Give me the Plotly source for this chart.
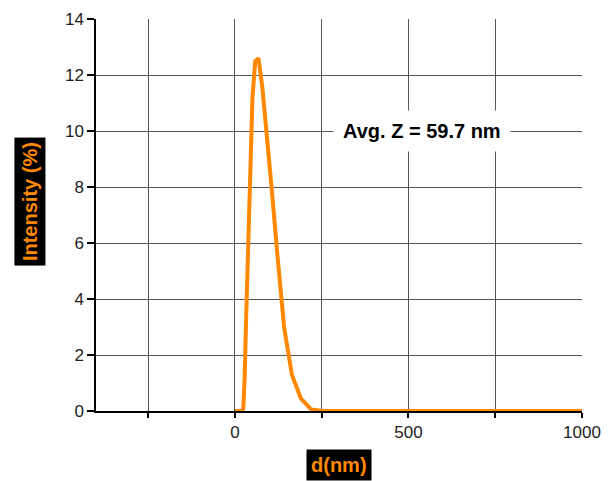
import plotly.graph_objects as go

# Size distribution (DLS)
size_nm = [0.4, 5.0, 10.0, 15.69, 18.17, 21.04, 24.36, 28.21, 32.67, 37.84, 43.82, 50.75,
           58.77, 68.06, 78.82, 91.28, 105.7, 122.4, 141.8, 164.2, 190.1, 220.2, 255.0,
           295.3, 342.0, 396.1, 458.7, 531.2, 615.1, 712.4, 825.0, 955.4, 1000.0]
intensity = [0.0, 0.0, 0.0, 0.0, 0.0, 0.0, 0.1, 1.2, 3.4, 6.0, 8.9, 11.2,
             12.5, 12.6, 11.6, 10.0, 8.0, 5.6, 3.0, 1.3, 0.45, 0.05, 0.0,
             0.0, 0.0, 0.0, 0.0, 0.0, 0.0, 0.0, 0.0, 0.0, 0.0]

x_tickvals = [-250, 0, 250, 500, 750, 1000]
x_ticktext = ["", "0", "", "500", "", "1000"]
y_tickvals = [0, 2, 4, 6, 8, 10, 12, 14]

avg_z_label = "Avg. Z = 59.7 nm"
x_title = "d(nm)"
y_title = "Intensity (%)"

FONT = "Arial, Liberation Sans, sans-serif"
ORANGE = "#FF8800"

fig = go.Figure()
fig.add_trace(go.Scatter(x=size_nm, y=intensity, mode="lines",
                         line=dict(color=ORANGE, width=4), showlegend=False))

fig.update_layout(
    width=605, height=473,
    margin=dict(l=88, r=31, t=11, b=70),
    paper_bgcolor="white", plot_bgcolor="white",
    font=dict(family=FONT, size=17, color="#222222"),
    xaxis=dict(range=[-400, 1000], tickvals=x_tickvals, ticktext=x_ticktext,
               showgrid=True, gridcolor="#555555", gridwidth=1.2,
               showline=True, linecolor="black", linewidth=1.5,
               ticks="outside", ticklen=5, tickcolor="black", tickwidth=1.5,
               zeroline=False, automargin=False,
               tickfont=dict(size=17, color="#222222")),
    yaxis=dict(range=[0, 14], tickvals=y_tickvals,
               showgrid=True, gridcolor="#555555", gridwidth=1.2,
               showline=True, linecolor="black", linewidth=1.5,
               ticks="outside", ticklen=7, tickcolor="black", tickwidth=1.5,
               zeroline=False, automargin=False,
               tickfont=dict(size=17, color="#222222")),
    annotations=[
        dict(x=539, y=10, xref="x", yref="y", text="<b>" + avg_z_label + "</b>",
             showarrow=False, bgcolor="white", borderpad=9,
             font=dict(family=FONT, size=20, color="black"),
             xanchor="center", yanchor="middle"),
        dict(x=0, y=0.533, xref="paper", yref="paper", xshift=-66,
             text="<b>" + y_title + "</b>", textangle=-90, showarrow=False,
             bgcolor="black", borderpad=4,
             font=dict(family=FONT, size=20, color=ORANGE),
             xanchor="center", yanchor="middle"),
        dict(x=0.5, y=0, xref="paper", yref="paper", yshift=-54,
             text="<b>" + x_title + "</b>", showarrow=False,
             bgcolor="black", borderpad=4,
             font=dict(family=FONT, size=20, color=ORANGE),
             xanchor="center", yanchor="middle"),
    ],
)

fig.write_html("out.html")
